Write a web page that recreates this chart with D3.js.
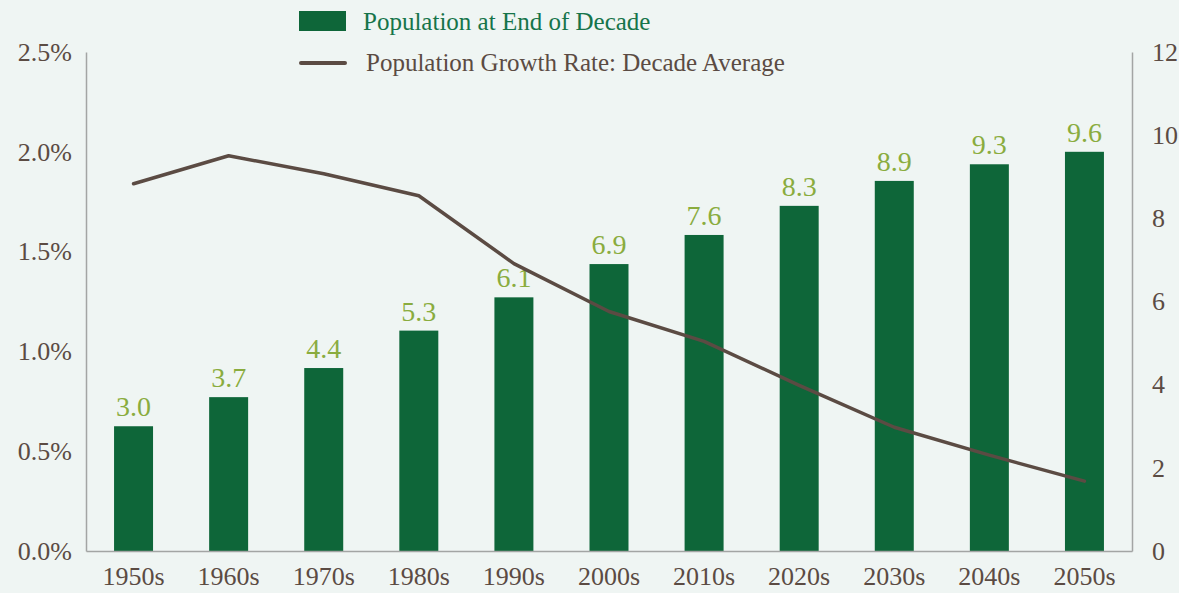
<!DOCTYPE html>
<html>
<head>
<meta charset="utf-8">
<script src="https://cdn.jsdelivr.net/npm/d3@7"></script>
<style>
  html, body { margin: 0; padding: 0; background: #eff5f3; }
  svg { display: block; }
</style>
</head>
<body>
<div id="chart"></div>
<script>
// decades on the x axis
const decades = ["1950s", "1960s", "1970s", "1980s", "1990s", "2000s", "2010s", "2020s", "2030s", "2040s", "2050s"];
// population at end of decade (billions), right axis
const population = [3.0, 3.7, 4.4, 5.3, 6.1, 6.9, 7.6, 8.3, 8.9, 9.3, 9.6];
// population growth rate, decade average (%), left axis
const growthRate = [1.84, 1.98, 1.89, 1.78, 1.44, 1.20, 1.05, 0.83, 0.62, 0.48, 0.35];
const leftTicks = [0, 0.5, 1.0, 1.5, 2.0, 2.5];
const rightTicks = [0, 2, 4, 6, 8, 10, 12];

const width = 1179;
const height = 593;
const margin = { top: 52, right: 47, bottom: 42, left: 86 };
const font = "'Liberation Serif', 'Times New Roman', serif";

const barColor = "#0e6639";
const lineColor = "#5b4b43";
const labelColor = "#8aac3e";
const axisColor = "#a3a5a4";

const svg = d3
  .select("#chart")
  .append("svg")
  .attr("width", width)
  .attr("height", height);

const x = d3
  .scaleBand()
  .domain(decades)
  .range([margin.left, width - margin.right])
  .paddingInner(0.59)
  .paddingOuter(0.295);

const yLeft = d3
  .scaleLinear()
  .domain([0, 2.5])
  .range([height - margin.bottom, margin.top]);

const yRight = d3
  .scaleLinear()
  .domain([0, 12])
  .range([height - margin.bottom, margin.top]);

// bars
svg
  .append("g")
  .selectAll("rect")
  .data(population)
  .enter()
  .append("rect")
  .attr("x", (d, i) => x(decades[i]))
  .attr("y", d => yRight(d))
  .attr("width", x.bandwidth())
  .attr("height", d => yRight(0) - yRight(d))
  .attr("fill", barColor);

// bar labels
svg
  .append("g")
  .selectAll("text")
  .data(population)
  .enter()
  .append("text")
  .attr("x", (d, i) => x(decades[i]) + x.bandwidth() / 2)
  .attr("y", d => yRight(d) - 10)
  .attr("text-anchor", "middle")
  .style("font-family", font)
  .style("font-size", "28px")
  .attr("fill", labelColor)
  .text(d => d.toFixed(1));

// growth rate line
const line = d3
  .line()
  .x((d, i) => x(decades[i]) + x.bandwidth() / 2)
  .y(d => yLeft(d));

svg
  .append("path")
  .datum(growthRate)
  .attr("d", line)
  .attr("fill", "none")
  .attr("stroke", lineColor)
  .attr("stroke-width", 3.5)
  .attr("stroke-linejoin", "round")
  .attr("stroke-linecap", "round");

// axes
const leftAxis = svg
  .append("g")
  .attr("transform", "translate(" + margin.left + ",0)")
  .call(d3.axisLeft(yLeft).tickValues(leftTicks).tickSize(0).tickPadding(14).tickFormat(d => d.toFixed(1) + "%"));

const rightAxis = svg
  .append("g")
  .attr("transform", "translate(" + (width - margin.right) + ",0)")
  .call(d3.axisRight(yRight).tickValues(rightTicks).tickSize(0).tickPadding(20));

const bottomAxis = svg
  .append("g")
  .attr("transform", "translate(0," + (height - margin.bottom) + ")")
  .call(d3.axisBottom(x).tickSize(0).tickPadding(16));

[leftAxis, rightAxis, bottomAxis].forEach(g => {
  g.select(".domain").attr("stroke", axisColor).attr("stroke-width", 1.5);
  g.selectAll("text")
    .style("font-family", font)
    .style("font-size", "26px")
    .attr("fill", lineColor);
});

// legend
const legend = svg.append("g");

legend
  .append("rect")
  .attr("x", 299)
  .attr("y", 11)
  .attr("width", 47)
  .attr("height", 20)
  .attr("fill", barColor);

legend
  .append("text")
  .attr("x", 363)
  .attr("y", 30)
  .style("font-family", font)
  .style("font-size", "25px")
  .attr("fill", "#16744a")
  .text("Population at End of Decade");

legend
  .append("line")
  .attr("x1", 301)
  .attr("x2", 345)
  .attr("y1", 63)
  .attr("y2", 63)
  .attr("stroke", lineColor)
  .attr("stroke-width", 4)
  .attr("stroke-linecap", "round");

legend
  .append("text")
  .attr("x", 366)
  .attr("y", 71)
  .style("font-family", font)
  .style("font-size", "25px")
  .attr("fill", lineColor)
  .text("Population Growth Rate: Decade Average");
</script>
</body>
</html>
